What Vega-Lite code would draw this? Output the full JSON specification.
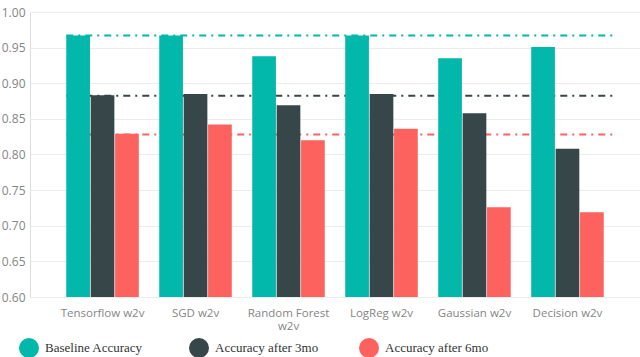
{
  "$schema": "https://vega.github.io/schema/vega-lite/v6.json",
  "autosize": {"type": "none"},
  "padding": {"left": 30, "top": 12, "right": 0, "bottom": 60},
  "width": 610,
  "height": 285,
  "background": "white",
  "datasets": {
    "bars": [
      {"model": "Tensorflow w2v", "series": "Baseline Accuracy", "value": 0.967},
      {"model": "Tensorflow w2v", "series": "Accuracy after 3mo", "value": 0.883},
      {"model": "Tensorflow w2v", "series": "Accuracy after 6mo", "value": 0.829},
      {"model": "SGD w2v", "series": "Baseline Accuracy", "value": 0.967},
      {"model": "SGD w2v", "series": "Accuracy after 3mo", "value": 0.885},
      {"model": "SGD w2v", "series": "Accuracy after 6mo", "value": 0.842},
      {"model": "Random Forest w2v", "series": "Baseline Accuracy", "value": 0.938},
      {"model": "Random Forest w2v", "series": "Accuracy after 3mo", "value": 0.869},
      {"model": "Random Forest w2v", "series": "Accuracy after 6mo", "value": 0.820},
      {"model": "LogReg w2v", "series": "Baseline Accuracy", "value": 0.967},
      {"model": "LogReg w2v", "series": "Accuracy after 3mo", "value": 0.885},
      {"model": "LogReg w2v", "series": "Accuracy after 6mo", "value": 0.836},
      {"model": "Gaussian w2v", "series": "Baseline Accuracy", "value": 0.935},
      {"model": "Gaussian w2v", "series": "Accuracy after 3mo", "value": 0.858},
      {"model": "Gaussian w2v", "series": "Accuracy after 6mo", "value": 0.726},
      {"model": "Decision w2v", "series": "Baseline Accuracy", "value": 0.951},
      {"model": "Decision w2v", "series": "Accuracy after 3mo", "value": 0.808},
      {"model": "Decision w2v", "series": "Accuracy after 6mo", "value": 0.719}
    ],
    "refs": [
      {"ref": "Baseline", "value": 0.967, "start": "Tensorflow w2v", "end": "Decision w2v"},
      {"ref": "3mo", "value": 0.8825, "start": "Tensorflow w2v", "end": "Decision w2v"},
      {"ref": "6mo", "value": 0.828, "start": "Tensorflow w2v", "end": "Decision w2v"}
    ]
  },
  "encoding": {
    "y": {
      "field": "value",
      "type": "quantitative",
      "scale": {"domain": [0.6, 1.0], "zero": false, "clamp": true, "nice": false},
      "axis": {
        "title": null,
        "values": [0.6, 0.65, 0.7, 0.75, 0.8, 0.85, 0.9, 0.95, 1.0],
        "format": ".2f",
        "ticks": false,
        "domain": false,
        "labelPadding": 5,
        "labelFont": "Open Sans",
        "labelFontSize": 12,
        "labelColor": "#858585",
        "labelOverlap": false,
        "gridColor": "#ececec",
        "gridWidth": 1
      }
    }
  },
  "layer": [
    {
      "data": {"name": "refs"},
      "mark": {"type": "rule", "strokeWidth": 2, "strokeDash": [7, 5, 2, 5]},
      "encoding": {
        "x": {
          "field": "start",
          "type": "nominal",
          "bandPosition": 0,
          "scale": {
            "domain": ["Tensorflow w2v", "SGD w2v", "Random Forest w2v", "LogReg w2v", "Gaussian w2v", "Decision w2v"],
            "paddingInner": 0.22,
            "paddingOuter": 0.39
          },
          "axis": {
            "title": null,
            "labelAngle": 0,
            "ticks": false,
            "domain": false,
            "labelPadding": 10,
            "labelFont": "Open Sans",
            "labelFontSize": 11.5,
            "labelColor": "#858585",
            "labelExpr": "datum.label == 'Random Forest w2v' ? ['Random Forest', 'w2v'] : datum.label"
          }
        },
        "x2": {"field": "end", "bandPosition": 1.17},
        "stroke": {
          "field": "ref",
          "type": "nominal",
          "scale": {
            "domain": ["Baseline", "3mo", "6mo"],
            "range": ["#01B8AA", "#374649", "#FD625E"]
          },
          "legend": null
        }
      }
    },
    {
      "data": {"name": "bars"},
      "mark": {"type": "bar"},
      "encoding": {
        "x": {"field": "model", "type": "nominal"},
        "xOffset": {
          "field": "series",
          "type": "nominal",
          "scale": {
            "domain": ["Baseline Accuracy", "Accuracy after 3mo", "Accuracy after 6mo"],
            "paddingInner": 0.03
          }
        },
        "color": {
          "field": "series",
          "type": "nominal",
          "scale": {
            "domain": ["Baseline Accuracy", "Accuracy after 3mo", "Accuracy after 6mo"],
            "range": ["#01B8AA", "#374649", "#FD625E"]
          },
          "legend": {
            "title": null,
            "orient": "none",
            "direction": "horizontal",
            "legendX": -11,
            "legendY": 326,
            "symbolType": "circle",
            "symbolSize": 400,
            "symbolStrokeWidth": 0,
            "symbolOpacity": 1,
            "gridAlign": "all",
            "columns": 3,
            "columnPadding": 40,
            "labelOffset": 6,
            "labelFont": "Liberation Serif",
            "labelFontSize": 13,
            "labelColor": "#333333"
          }
        }
      }
    }
  ]
}
